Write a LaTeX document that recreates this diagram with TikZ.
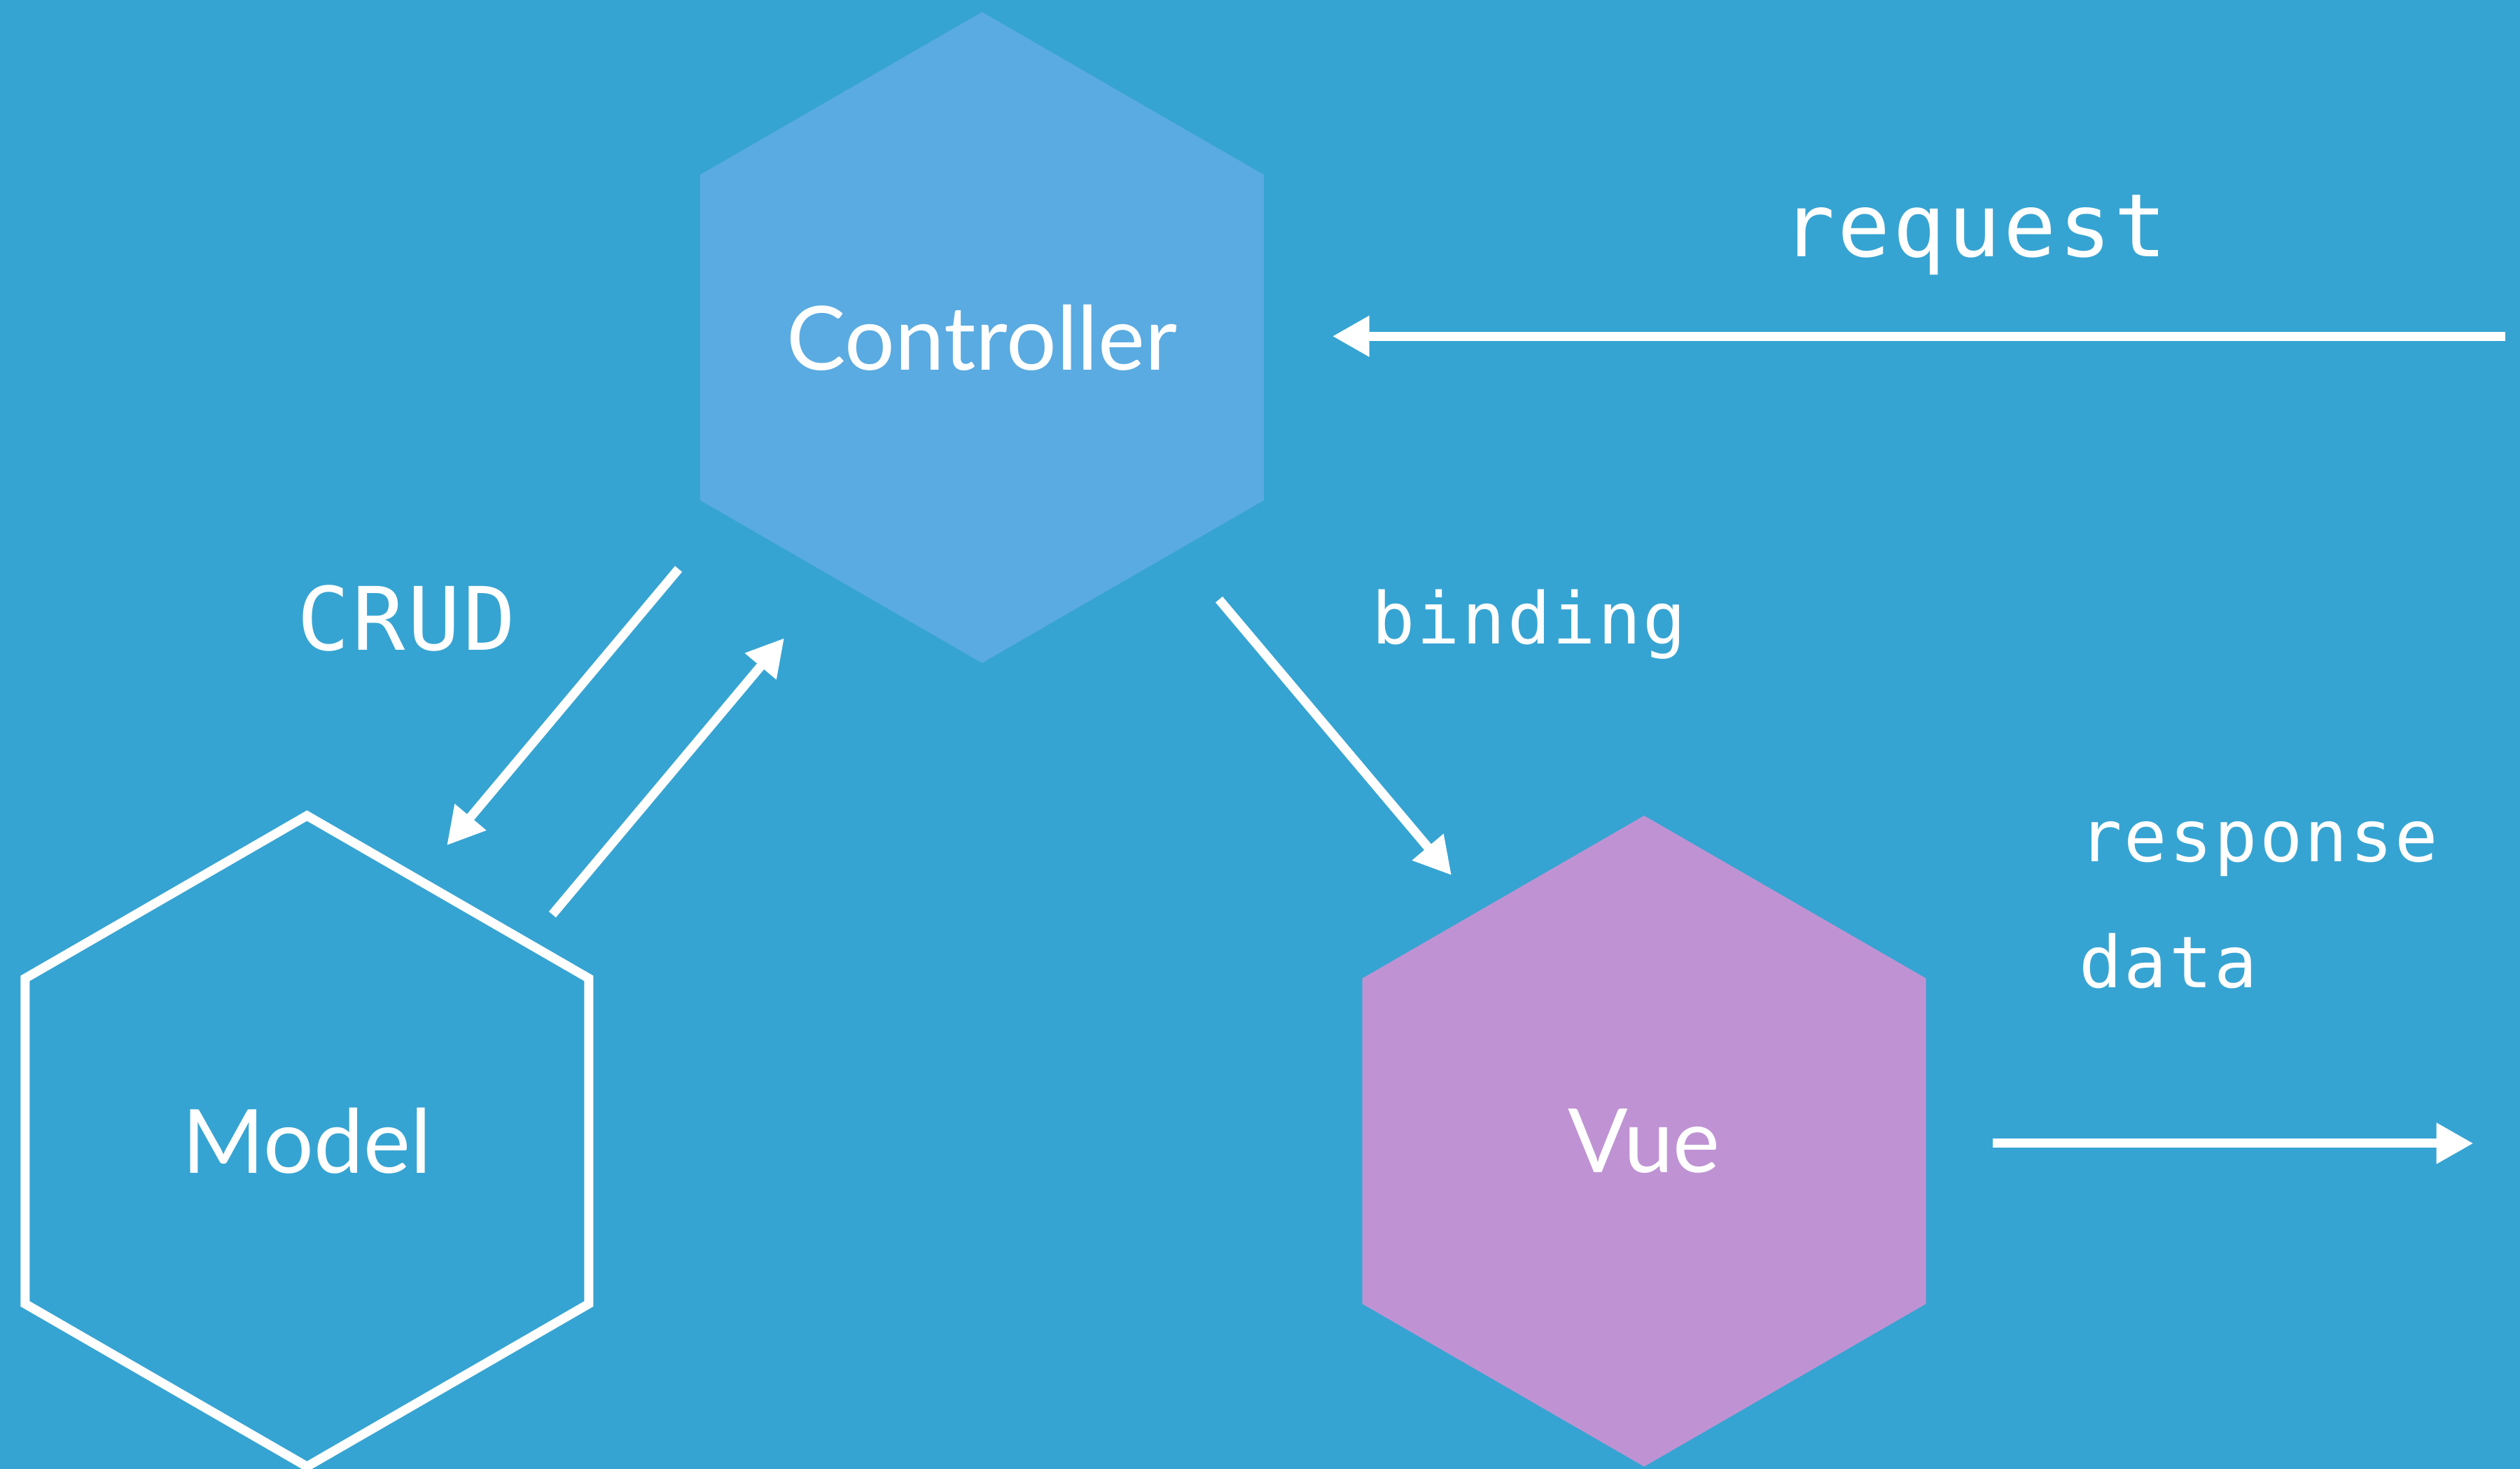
\documentclass[tikz,border=0pt]{standalone}
\usepackage{fontspec}
\setmainfont{Lato}
\newfontfamily\monolabel[LetterSpace=3]{DejaVu Sans Mono}
\usetikzlibrary{shapes.geometric,arrows.meta}
\definecolor{bgblue}{HTML}{36A4D2}
\definecolor{ctrlblue}{HTML}{5AABE1}
\definecolor{vuepurple}{HTML}{BF93D3}

\begin{document}
\begin{tikzpicture}[
        hexa/.style={regular polygon,regular polygon sides=6,shape border rotate=30,minimum size=4.05cm,inner sep=0pt,outer sep=0pt,text=white,font=\fontsize{15.7}{19}\selectfont},
        biglabel/.style={text=white,inner sep=0pt,anchor=base,font=\monolabel\fontsize{15.5}{19}\selectfont},
        smalllabel/.style={text=white,inner sep=0pt,font=\monolabel\fontsize{12.65}{22.4}\selectfont},
        flow/.style={white,line width=1.62pt,-{Triangle[length=0.23cm,width=0.24cm]}}
    ]
        \fill[bgblue] (0,0) rectangle (15.68,-9.14);
        \useasboundingbox (0,0) rectangle (15.68,-9.14);
        \node[hexa,fill=ctrlblue] at (6.11,-2.10) (ctrl) {Controller};
        \node[hexa,draw=white,line width=1.62pt] at (1.91,-7.10) (model) {Model};
        \node[hexa,fill=vuepurple] at (10.23,-7.10) (vue) {Vue};
        \node[biglabel] at (12.287,-1.595) (reqlabel) {request};
        \node[biglabel] at (2.53,-4.047) (crudlabel) {CRUD};
        \node[smalllabel,anchor=base] at (9.514,-4.004) (bindlabel) {binding};
        \node[smalllabel,anchor=base west,align=left] at (12.93,-6.146) (resplabel) {response\\data};
        \coordinate (reqfrom) at (15.59,-2.092);
        \coordinate (reqto) at (8.29,-2.092);
        \coordinate (crudfrom) at (4.222,-3.54);
        \coordinate (crudto) at (2.78,-5.26);
        \coordinate (backfrom) at (3.437,-5.69);
        \coordinate (backto) at (4.88,-3.97);
        \coordinate (bindfrom) at (7.585,-3.73);
        \coordinate (bindto) at (9.032,-5.446);
        \coordinate (respfrom) at (12.40,-7.114);
        \coordinate (respto) at (15.39,-7.114);
        \path[flow]
        (reqfrom) edge (reqto)
        (crudfrom) edge (crudto)
        (backfrom) edge (backto)
        (bindfrom) edge (bindto)
        (respfrom) edge (respto)
        ;
    \end{tikzpicture}
\end{document}
